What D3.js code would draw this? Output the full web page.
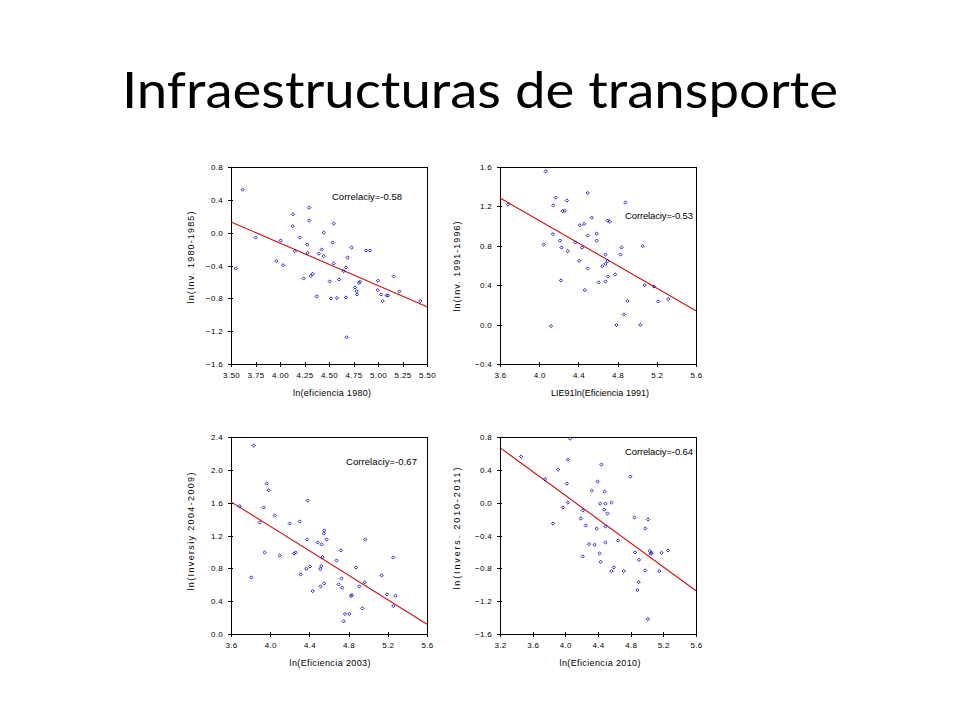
<!DOCTYPE html>
<html>
<head>
<meta charset="utf-8">
<script src="https://cdn.jsdelivr.net/npm/d3@7"></script>
<style>
  html, body { margin: 0; padding: 0; background: #fff; }
  svg { display: block; }
</style>
</head>
<body>
<svg id="chart" width="960" height="720"></svg>
<script>
// ---------- DATA ----------
const chartTitle = "Infraestructuras de transporte";

// Panel 1: 1980
const p1XTicks = [3.50, 3.75, 4.00, 4.25, 4.50, 4.75, 5.00, 5.25, 5.50];
const p1YTicks = [-1.6, -1.2, -0.8, -0.4, 0.0, 0.4, 0.8];
const p1Points = [
  [3.619, 0.524], [3.548, -0.436], [3.752, -0.059], [3.963, -0.347], [4.007, -0.096],
  [4.031, -0.396], [4.133, 0.224], [4.129, 0.078], [4.150, -0.226], [4.201, -0.059],
  [4.241, -0.558], [4.279, -0.145], [4.282, -0.246], [4.299, 0.305], [4.299, 0.147],
  [4.313, -0.530], [4.333, -0.501], [4.374, -0.777], [4.395, -0.254], [4.425, -0.205],
  [4.446, 0.001], [4.446, -0.286], [4.507, -0.594], [4.520, -0.801], [4.537, -0.120],
  [4.548, 0.111], [4.548, -0.376], [4.582, -0.797], [4.602, -0.570], [4.650, -0.469],
  [4.673, -0.424], [4.673, -0.789], [4.680, -1.275], [4.690, -0.303], [4.731, -0.181],
  [4.765, -0.667], [4.782, -0.712], [4.786, -0.753], [4.806, -0.611], [4.816, -0.598],
  [4.878, -0.217], [4.918, -0.217], [5.000, -0.586], [4.997, -0.700], [5.031, -0.753],
  [5.048, -0.834], [5.088, -0.765], [5.102, -0.765], [5.160, -0.533], [5.218, -0.716],
  [5.432, -0.834]
];
const p1Fit = [[3.5, 0.131], [5.5, -0.902]];

// Panel 2: 1991
const p2XTicks = [3.6, 4.0, 4.4, 4.8, 5.2, 5.6];
const p2YTicks = [-0.4, 0.0, 0.4, 0.8, 1.2, 1.6];
const p2Points = [
  [4.066, 1.556], [3.681, 1.218], [4.144, 1.211], [4.168, 1.289], [4.282, 1.259],
  [4.239, 1.151], [4.259, 1.157], [4.495, 1.336], [4.536, 1.086], [4.414, 1.009],
  [4.458, 1.022], [4.698, 1.056], [4.718, 1.046], [4.880, 1.239], [4.140, 0.918],
  [4.046, 0.813], [4.211, 0.853], [4.228, 0.782], [4.292, 0.745], [4.370, 0.833],
  [4.438, 0.782], [4.407, 0.647], [4.495, 0.904], [4.586, 0.924], [4.586, 0.853],
  [4.677, 0.711], [4.677, 0.617], [4.698, 0.644], [4.644, 0.593], [4.495, 0.570],
  [4.222, 0.448], [4.465, 0.350], [4.607, 0.428], [4.677, 0.438], [4.701, 0.489],
  [4.776, 0.509], [4.840, 0.782], [4.830, 0.711], [5.056, 0.796], [4.901, 0.239],
  [4.864, 0.103], [4.789, -0.005], [4.120, -0.015], [5.032, -0.002], [5.076, 0.401],
  [5.171, 0.387], [5.215, 0.235], [5.316, 0.259]
];
const p2Fit = [[3.6, 1.286], [5.6, 0.141]];

// Panel 3: 2003
const p3XTicks = [3.6, 4.0, 4.4, 4.8, 5.2, 5.6];
const p3YTicks = [0.0, 0.4, 0.8, 1.2, 1.6, 2.0, 2.4];
const p3Points = [
  [3.831, 2.295], [3.964, 1.833], [3.984, 1.751], [3.933, 1.541], [3.688, 1.557],
  [4.045, 1.444], [3.893, 1.358], [4.199, 1.346], [4.301, 1.370], [4.382, 1.626],
  [4.376, 1.152], [3.943, 0.993], [4.097, 0.957], [4.243, 0.981], [4.260, 0.993],
  [4.484, 1.115], [4.552, 1.261], [4.548, 1.224], [4.575, 1.152], [4.524, 1.091],
  [4.534, 0.937], [4.521, 0.827], [4.510, 0.791], [4.369, 0.795], [4.406, 0.823],
  [4.311, 0.726], [3.807, 0.689], [4.677, 0.896], [4.721, 1.018], [4.728, 0.677],
  [4.735, 0.564], [4.552, 0.616], [4.514, 0.580], [4.433, 0.523], [4.698, 0.604],
  [4.876, 0.811], [4.971, 1.152], [4.964, 0.629], [4.910, 0.580], [4.824, 0.462],
  [4.834, 0.475], [4.940, 0.313], [4.763, 0.244], [4.807, 0.244], [4.750, 0.154],
  [5.137, 0.714], [5.192, 0.483], [5.256, 0.933], [5.280, 0.466], [5.256, 0.341]
];
const p3Fit = [[3.6, 1.610], [5.6, 0.118]];

// Panel 4: 2010
const p4XTicks = [3.2, 3.6, 4.0, 4.4, 4.8, 5.2, 5.6];
const p4YTicks = [-1.6, -1.2, -0.8, -0.4, 0.0, 0.4, 0.8];
const p4Points = [
  [4.059, 0.780], [3.459, 0.561], [3.913, 0.403], [4.031, 0.524], [3.751, 0.285],
  [4.019, 0.232], [4.031, 0.001], [3.970, -0.059], [3.849, -0.254], [4.443, 0.464],
  [4.395, 0.257], [4.322, 0.147], [4.480, 0.135], [4.427, -0.012], [4.492, -0.012],
  [4.565, 0.001], [4.476, -0.084], [4.516, -0.132], [4.797, 0.318], [4.213, -0.096],
  [4.188, -0.193], [4.249, -0.278], [4.383, -0.315], [4.492, -0.290], [4.290, -0.505],
  [4.359, -0.513], [4.492, -0.485], [4.646, -0.461], [4.213, -0.655], [4.419, -0.619],
  [4.431, -0.720], [4.565, -0.834], [4.594, -0.789], [4.715, -0.834], [4.846, -0.181],
  [4.854, -0.607], [4.902, -0.696], [4.979, -0.315], [5.011, -0.205], [5.032, -0.586],
  [5.048, -0.623], [5.056, -0.611], [4.979, -0.826], [4.898, -0.968], [4.882, -1.065],
  [5.011, -1.417], [5.150, -0.834], [5.178, -0.611], [5.259, -0.582]
];
const p4Fit = [[3.2, 0.670], [5.6, -1.073]];

const corrLabels = ["Correlaciy=-0.58", "Correlaciy=-0.53", "Correlaciy=-0.67", "Correlaciy=-0.64"];
const xTitles = ["ln(eficiencia 1980)", "LIE91ln(Eficiencia 1991)", "ln(Eficiencia 2003)", "ln(Eficiencia 2010)"];
const yTitles = ["ln(Inv. 1980-1985)", "ln(Inv. 1991-1996)", "ln(Inversiy 2004-2009)", "ln(Invers. 2010-2011)"];

// ---------- LAYOUT / STYLE ----------
const panels = [
  { x0: 231, y0: 167, xTicks: p1XTicks, yTicks: p1YTicks, pts: p1Points, fit: p1Fit, xFmt: ".2f",
    corr: corrLabels[0], corrPos: [101, 33], corrLen: 70,
    xTitle: xTitles[0], xTitleLen: 78, xTitleDx: 3,
    yTitle: yTitles[0], yTitleDx: -37, yTitleDy: -8, yTitleLen: 92 },
  { x0: 500, y0: 167, xTicks: p2XTicks, yTicks: p2YTicks, pts: p2Points, fit: p2Fit, xFmt: ".1f",
    corr: corrLabels[1], corrPos: [125, 52], corrLen: 68,
    xTitle: xTitles[1], xTitleLen: 98, xTitleDx: 2,
    yTitle: yTitles[1], yTitleDx: -40, yTitleDy: 1, yTitleLen: 90 },
  { x0: 231, y0: 437, xTicks: p3XTicks, yTicks: p3YTicks, pts: p3Points, fit: p3Fit, xFmt: ".1f",
    corr: corrLabels[2], corrPos: [115, 28], corrLen: 71,
    xTitle: xTitles[2], xTitleLen: 81, xTitleDx: 1,
    yTitle: yTitles[2], yTitleDx: -37, yTitleDy: -4, yTitleLen: 118 },
  { x0: 500, y0: 437, xTicks: p4XTicks, yTicks: p4YTicks, pts: p4Points, fit: p4Fit, xFmt: ".1f",
    corr: corrLabels[3], corrPos: [125, 18], corrLen: 68,
    xTitle: xTitles[3], xTitleLen: 81, xTitleDx: 2,
    yTitle: yTitles[3], yTitleDx: -40, yTitleDy: -7, yTitleLen: 122 }
];
const W = 196, H = 197;
const FONT = "'Liberation Sans', Arial, sans-serif";

const svg = d3.select("#chart");

svg.append("text")
  .attr("x", 480).attr("y", 108)
  .attr("text-anchor", "middle")
  .attr("font-family", "Lato, 'Open Sans', sans-serif")
  .attr("font-size", 50)
  .attr("textLength", 716)
  .attr("lengthAdjust", "spacingAndGlyphs")
  .attr("fill", "#000")
  .text(chartTitle);

panels.forEach(p => {
  const xs = d3.scaleLinear().domain(d3.extent(p.xTicks)).range([0, W]);
  const ys = d3.scaleLinear().domain(d3.extent(p.yTicks)).range([H, 0]);
  const g = svg.append("g").attr("transform", `translate(${p.x0},${p.y0})`);

  // outward ticks with labels
  const xAxis = d3.axisBottom(xs).tickValues(p.xTicks).tickSizeInner(3).tickSizeOuter(0).tickPadding(5)
    .tickFormat(d3.format(p.xFmt));
  const yAxis = d3.axisLeft(ys).tickValues(p.yTicks).tickSizeInner(3).tickSizeOuter(0).tickPadding(5)
    .tickFormat(d3.format(".1f"));
  // inward tick stubs
  const xAxisIn = d3.axisBottom(xs).tickValues(p.xTicks).tickSizeInner(-2).tickSizeOuter(0).tickFormat("");
  const yAxisIn = d3.axisLeft(ys).tickValues(p.yTicks).tickSizeInner(-2).tickSizeOuter(0).tickFormat("");

  const gx = g.append("g").attr("transform", `translate(0,${H})`).call(xAxis);
  const gy = g.append("g").call(yAxis);
  const gxi = g.append("g").attr("transform", `translate(0,${H})`).call(xAxisIn);
  const gyi = g.append("g").call(yAxisIn);
  [gx, gy, gxi, gyi].forEach(a => {
    a.select(".domain").remove();
    a.selectAll("line").attr("stroke", "#000").attr("shape-rendering", "crispEdges");
    a.selectAll("text").attr("font-family", FONT).attr("font-size", 8)
      .attr("letter-spacing", 0.3).attr("fill", "#000");
  });

  // frame
  g.append("rect").attr("x", 0.5).attr("y", 0.5).attr("width", W).attr("height", H)
    .attr("fill", "none").attr("stroke", "#000").attr("stroke-width", 1)
    .attr("shape-rendering", "crispEdges");

  // fit line
  g.append("line")
    .attr("x1", xs(p.fit[0][0])).attr("y1", ys(p.fit[0][1]))
    .attr("x2", xs(p.fit[1][0])).attr("y2", ys(p.fit[1][1]))
    .attr("stroke", "#cc1010").attr("stroke-width", 1.1);

  // points (small diamonds)
  g.append("g").selectAll("path").data(p.pts).enter().append("path")
    .attr("d", "M0,-1.6L1.6,0L0,1.6L-1.6,0Z")
    .attr("transform", d => `translate(${xs(d[0])},${ys(d[1])})`)
    .attr("fill", "none").attr("stroke", "#1010c0").attr("stroke-width", 0.9);

  // correlation label
  g.append("text").attr("x", p.corrPos[0]).attr("y", p.corrPos[1])
    .attr("font-family", FONT).attr("font-size", 9.5)
    .attr("textLength", p.corrLen).attr("lengthAdjust", "spacing")
    .attr("fill", "#000").text(p.corr);

  // axis titles
  g.append("text").attr("x", W / 2 + p.xTitleDx).attr("y", H + 32)
    .attr("text-anchor", "middle")
    .attr("font-family", FONT).attr("font-size", 9)
    .attr("textLength", p.xTitleLen).attr("lengthAdjust", "spacing")
    .attr("fill", "#000").text(p.xTitle);

  g.append("text")
    .attr("transform", `translate(${p.yTitleDx},${H / 2 + p.yTitleDy}) rotate(-90)`)
    .attr("text-anchor", "middle")
    .attr("font-family", FONT).attr("font-size", 9)
    .attr("textLength", p.yTitleLen).attr("lengthAdjust", "spacing")
    .attr("fill", "#000").text(p.yTitle);
});
</script>
</body>
</html>
